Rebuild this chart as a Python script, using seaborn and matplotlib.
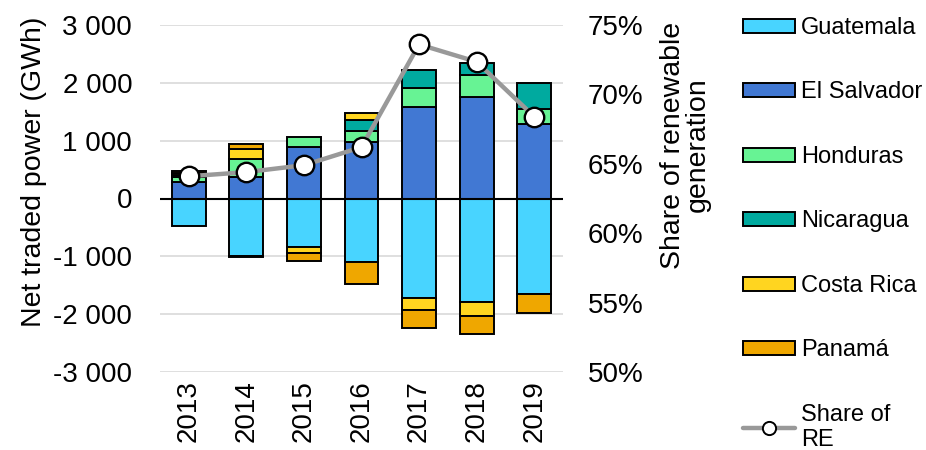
import matplotlib
matplotlib.use("Agg")
import matplotlib.pyplot as plt
from matplotlib.patches import Patch
from matplotlib.lines import Line2D
from matplotlib.ticker import FuncFormatter, FixedLocator
import numpy as np
import pandas as pd
import seaborn as sns

years = ["2013", "2014", "2015", "2016", "2017", "2018", "2019"]
guatemala = [-480, -990, -845, -1105, -1725, -1785, -1650]
el_salvador = [280, 375, 890, 980, 1580, 1755, 1285]
honduras = [90, 305, 170, 185, 330, 375, 260]
nicaragua = [40, -20, 0, 190, 320, 215, 460]
costa_rica = [30, 175, -90, 130, -200, -250, 0]
panama = [30, 90, -140, -375, -315, -315, -335]
share_re = [64.1, 64.4, 64.9, 66.2, 73.6, 72.35, 68.4]

countries = ["Guatemala", "El Salvador", "Honduras", "Nicaragua", "Costa Rica", "Panamá"]
series = [guatemala, el_salvador, honduras, nicaragua, costa_rica, panama]
colors = ["#48D4FF", "#4178D3", "#67F394", "#00AA9F", "#FFD520", "#EFA700"]

sns.set_theme(style="white")
plt.rcParams["font.family"] = ["Liberation Sans", "DejaVu Sans"]
plt.rcParams["text.color"] = "black"
FS = 20
FS_TITLE = 20.5
FS_LEG = 17

fig = plt.figure(figsize=(9.26, 4.5), dpi=100)
ax = fig.add_axes([160 / 926, 1 - 372 / 450, 403 / 926, 347 / 450])

pos_bottom = np.zeros(len(years))
neg_bottom = np.zeros(len(years))
for name, vals, col in zip(countries, series, colors):
    vals = np.array(vals, dtype=float)
    bottoms = np.where(vals >= 0, pos_bottom, neg_bottom)
    df = pd.DataFrame({"year": years, "value": vals})
    sns.barplot(data=df, x="year", y="value", order=years, color=col,
                bottom=bottoms, width=0.59, edgecolor="black", linewidth=1.4,
                saturation=1, errorbar=None, ax=ax, zorder=3)
    pos_bottom = pos_bottom + np.where(vals > 0, vals, 0)
    neg_bottom = neg_bottom + np.where(vals < 0, vals, 0)

for p in ax.patches:
    if abs(p.get_height()) < 1e-9:
        p.set_linewidth(0)

ax.set_ylim(-3000, 3000)
ax.set_xlim(-0.5, len(years) - 0.5)
ax.yaxis.set_major_locator(FixedLocator(np.arange(-3000, 3001, 1000)))
ax.yaxis.set_major_formatter(FuncFormatter(lambda v, p: f"{int(v):,}".replace(",", " ")))
ax.grid(axis="y", color="#d9d9d9", linewidth=1.2, zorder=0)
ax.set_axisbelow(True)
ax.axhline(0, color="black", linewidth=1.5, zorder=4)
for s in ax.spines.values():
    s.set_visible(False)
ax.tick_params(axis="y", length=0, pad=20, labelsize=FS, labelcolor="black")
ax.tick_params(axis="x", length=0, pad=6, labelsize=FS, labelcolor="black", labelrotation=90)
ax.set_xlabel("")
ax.set_ylabel("Net traded power (GWh)", fontsize=FS_TITLE, color="black")
ax.yaxis.set_label_coords(-0.28, 0.576)

ax2 = ax.twinx()
line_df = pd.DataFrame({"year": years, "share": share_re})
sns.lineplot(data=line_df, x="year", y="share", color="#999999", linewidth=3.2,
             marker="o", markersize=14, markerfacecolor="white",
             markeredgecolor="black", markeredgewidth=1.7, ax=ax2, zorder=5)
ax2.set_ylim(50, 75)
ax2.set_xlim(-0.5, len(years) - 0.5)
ax2.yaxis.set_major_locator(FixedLocator(np.arange(50, 76, 5)))
ax2.yaxis.set_major_formatter(FuncFormatter(lambda v, p: f"{int(v)}%"))
for s in ax2.spines.values():
    s.set_visible(False)
ax2.grid(False)
ax2.tick_params(axis="y", length=0, pad=18, labelsize=FS, labelcolor="black")
ax2.set_ylabel("Share of renewable\ngeneration", fontsize=FS_TITLE, color="black",
               linespacing=0.95)
ax2.yaxis.set_label_coords(1.241, 0.654)

handles = [Patch(facecolor=c, edgecolor="black", linewidth=1.4) for c in colors]
handles.append(Line2D([0], [0], color="#999999", linewidth=3.2, marker="o",
                      markersize=9.5, markerfacecolor="white",
                      markeredgecolor="black", markeredgewidth=1.4))
labels = countries + ["Share of\nRE"]
fig.legend(handles, labels, loc="upper left", bbox_to_anchor=(743 / 926, 1 - 17 / 450),
           frameon=False, fontsize=FS_LEG, borderpad=0, borderaxespad=0,
           handlelength=2.2, handleheight=0.55, handletextpad=0.25,
           labelspacing=1.8, labelcolor="black")

fig.savefig("out.png", dpi=100)
